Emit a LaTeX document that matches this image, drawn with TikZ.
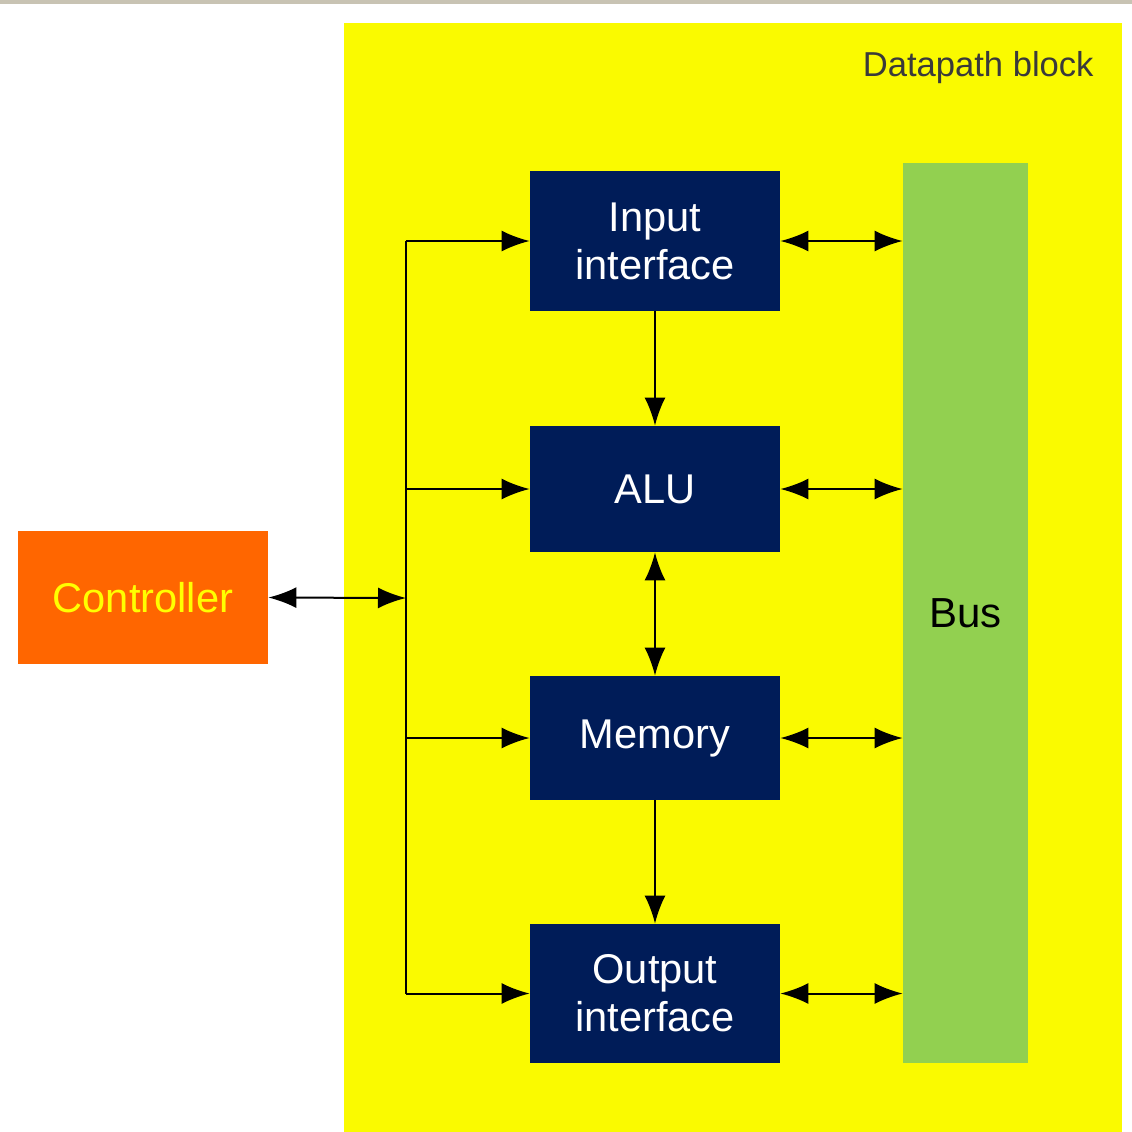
\documentclass[tikz,border=0pt]{standalone}
\usepackage{fontspec}
\setmainfont{Liberation Sans}
\usetikzlibrary{arrows.meta}
\definecolor{dpyellow}{HTML}{FAFA00}
\definecolor{unitblue}{HTML}{001C58}
\definecolor{ctrlorange}{HTML}{FF6600}
\definecolor{busgreen}{HTML}{92D050}
\definecolor{ctrltext}{HTML}{FFFF00}
\definecolor{titlegray}{HTML}{3A3A3A}
\definecolor{topbar}{HTML}{C8C3B3}
\tikzset{
  unit/.style={fill=unitblue, text=white, inner sep=0pt, minimum width=125pt,
    align=center, font=\fontsize{20.8}{24}\selectfont},
  tip/.tip={Latex[length=14pt,width=10.5pt]},
  link/.style={line width=1pt, -tip},
  biglink/.style={line width=1pt, tip-tip},
  plain/.style={line width=1pt},
}
\begin{document}
\begin{tikzpicture}[x=0.5pt, y=-0.5pt]
  % canvas and top rule
  \fill[white] (0,0) rectangle (1132,1132);
  \useasboundingbox (0,0) rectangle (1132,1132);
  \fill[topbar] (0,0) rectangle (1132,3.5);

  % datapath area
  \fill[dpyellow] (344,23) rectangle (1122,1132);
  \node[text=titlegray, font=\fontsize{17.3}{20}\selectfont, anchor=base east, inner sep=0pt]
    (title) at (1094,76) {Datapath block};

  % bus
  \node[fill=busgreen, inner sep=0pt, minimum width=62.5pt, minimum height=450pt,
    font=\fontsize{21}{24}\selectfont] (bus) at (965.5,613) {Bus};

  % functional units
  \node[unit, minimum height=70pt] (inp) at (655,241) {Input\\interface};
  \node[unit, minimum height=63pt] (alu) at (655,489) {ALU};
  \node[unit, minimum height=62pt] (mem) at (655,738) {Memory};
  \node[unit, minimum height=69.5pt] (out) at (655,993.5) {Output\\interface};

  % controller
  \node[fill=ctrlorange, text=ctrltext, inner sep=0pt, minimum width=125pt,
    minimum height=66.5pt, font=\fontsize{20.8}{24}\selectfont] (ctrl) at (143,597.5) {Controller};

  % control spine
  \coordinate (sp) at (406,598);
  \draw[plain] (inp.west -| sp) -- (out.west -| sp);
  \draw[biglink] (ctrl.east) -- (sp);
  \foreach \u in {inp,alu,mem,out}
    \draw[link] (\u.west -| sp) -- (\u.west);

  % bus connections
  \foreach \u in {inp,alu,mem,out}
    \draw[biglink] (\u.east) -- (\u.east -| bus.west);

  % data flow between units
  \draw[link] (inp.south) -- (alu.north);
  \draw[biglink] (alu.south) -- (mem.north);
  \draw[link] (mem.south) -- (out.north);
\end{tikzpicture}
\end{document}
